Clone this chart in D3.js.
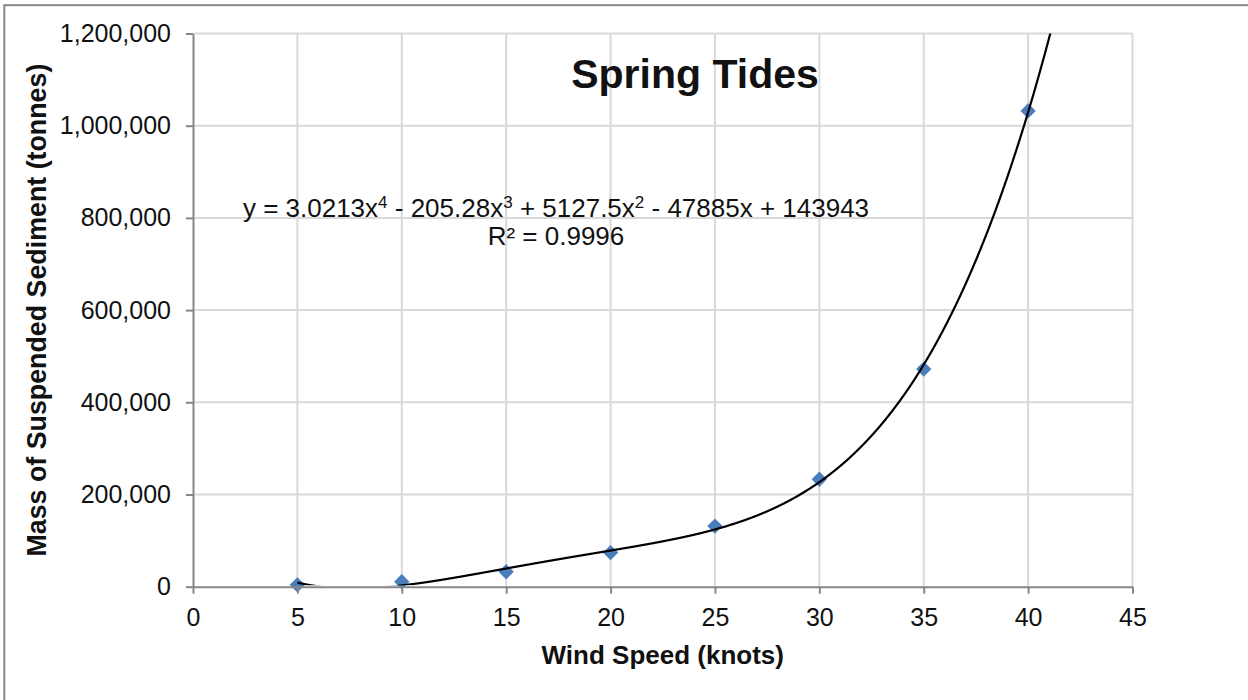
<!DOCTYPE html>
<html>
<head>
<meta charset="utf-8">
<script src="https://cdn.jsdelivr.net/npm/d3@7"></script>
<style>
  html, body { margin: 0; padding: 0; background: #fff; }
  svg { display: block; font-family: "Liberation Sans", Arial, sans-serif; }
</style>
</head>
<body>
<svg id="chart" width="1248" height="700"></svg>
<script>
// Wind speed (knots) and measured suspended sediment mass (tonnes)
const windSpeed = [5, 10, 15, 20, 25, 30, 35, 40];
const sedimentMass = [4000, 11000, 32500, 74000, 131500, 233000, 472000, 1032000];

// Fourth-order polynomial trendline: c0 + c1 x + c2 x^2 + c3 x^3 + c4 x^4
const trendCoef = [143943, -47885, 5127.5, -205.28, 3.0213];
const rSquared = "0.9996";

const xTicks = [0, 5, 10, 15, 20, 25, 30, 35, 40, 45];
const yTicks = [0, 200000, 400000, 600000, 800000, 1000000, 1200000];

const chartTitle = "Spring Tides";
const xTitle = "Wind Speed (knots)";
const yTitle = "Mass of Suspended Sediment (tonnes)";

const svg = d3.select("#chart");
const plot = { left: 193, right: 1132.5, top: 33.5, bottom: 586.7 };

const x = d3.scaleLinear().domain([0, 45]).range([plot.left, plot.right]);
const y = d3.scaleLinear().domain([0, 1200000]).range([plot.bottom, plot.top]);

// outer chart frame
svg.append("rect")
  .attr("x", 4.3).attr("y", 5.2)
  .attr("width", 1300).attr("height", 800)
  .attr("fill", "none").attr("stroke", "#878787").attr("stroke-width", 2);

// gridlines
const grid = svg.append("g").attr("stroke", "#d9d9d9").attr("stroke-width", 2);
grid.selectAll("line.h").data(yTicks.filter(d => d > 0)).join("line")
  .attr("x1", plot.left).attr("x2", plot.right)
  .attr("y1", d => y(d)).attr("y2", d => y(d));
grid.selectAll("line.v").data(xTicks.filter(d => d > 0)).join("line")
  .attr("y1", plot.top).attr("y2", plot.bottom)
  .attr("x1", d => x(d)).attr("x2", d => x(d));

// clip region for the trendline (values at or below zero stay hidden)
svg.append("clipPath").attr("id", "plotClip")
  .append("rect")
  .attr("x", plot.left).attr("y", plot.top)
  .attr("width", plot.right - plot.left).attr("height", plot.bottom - plot.top - 1.5);

// data markers (diamonds)
const diamond = d3.symbol().type(d3.symbolDiamond2).size(150);
svg.append("g").selectAll("path")
  .data(windSpeed.map((w, i) => ({ w, m: sedimentMass[i] })))
  .join("path")
  .attr("d", diamond)
  .attr("transform", d => `translate(${x(d.w)},${y(d.m)})`)
  .attr("fill", "#4a7ebb");

// polynomial trendline evaluated from the fitted coefficients
const poly = v => trendCoef.reduce((s, c, k) => s + c * Math.pow(v, k), 0);
const trendX = d3.range(windSpeed[0], 45.0001, 0.02);
svg.append("path")
  .datum(trendX)
  .attr("clip-path", "url(#plotClip)")
  .attr("fill", "none").attr("stroke", "#000").attr("stroke-width", 2.2)
  .attr("stroke-linejoin", "round")
  .attr("d", d3.line().x(v => x(v)).y(v => y(poly(v))));

// axes
const yAxis = svg.append("g")
  .attr("transform", `translate(${plot.left},0)`)
  .call(d3.axisLeft(y).tickValues(yTicks).tickFormat(d3.format(",")).tickSize(7).tickPadding(15).tickSizeOuter(0));
const xAxis = svg.append("g")
  .attr("transform", `translate(0,${plot.bottom})`)
  .call(d3.axisBottom(x).tickValues(xTicks).tickFormat(d3.format("d")).tickSize(7).tickPadding(15).tickSizeOuter(0));

[yAxis, xAxis].forEach(a => {
  a.select(".domain").attr("stroke", "#868686").attr("stroke-width", 2);
  a.selectAll(".tick line").attr("stroke", "#868686").attr("stroke-width", 2);
  a.selectAll(".tick text").attr("fill", "#111").attr("font-size", 25)
    .attr("font-family", "'Liberation Sans', Arial, sans-serif");
});

// chart title
svg.append("text")
  .attr("x", 695).attr("y", 88)
  .attr("text-anchor", "middle")
  .attr("font-size", 41).attr("font-weight", "bold").attr("fill", "#111")
  .text(chartTitle);

// axis titles
svg.append("text")
  .attr("x", (plot.left + plot.right) / 2).attr("y", 664)
  .attr("text-anchor", "middle")
  .attr("font-size", 26).attr("font-weight", "bold").attr("fill", "#111")
  .text(xTitle);
svg.append("text")
  .attr("transform", `translate(46,${(plot.top + plot.bottom) / 2}) rotate(-90)`)
  .attr("text-anchor", "middle")
  .attr("font-size", 26.8).attr("font-weight", "bold").attr("fill", "#111")
  .text(yTitle);

// trendline equation label
const fmtCoef = c => String(Math.abs(c));
const eq = svg.append("text")
  .attr("x", 556).attr("y", 217)
  .attr("text-anchor", "middle")
  .attr("font-size", 26).attr("fill", "#111");
const terms = [
  { c: trendCoef[4], p: 4 }, { c: trendCoef[3], p: 3 }, { c: trendCoef[2], p: 2 },
  { c: trendCoef[1], p: 1 }, { c: trendCoef[0], p: 0 }
];
let pendingDy = 0;
terms.forEach((t, i) => {
  const sign = i === 0 ? "y = " + (t.c < 0 ? "-" : "") : (t.c < 0 ? " - " : " + ");
  eq.append("tspan").attr("dy", pendingDy).text(sign + fmtCoef(t.c) + (t.p >= 1 ? "x" : ""));
  pendingDy = 0;
  if (t.p >= 2) {
    eq.append("tspan").attr("dy", -9).attr("font-size", 17).text(String(t.p));
    pendingDy = 9;
  }
});
svg.append("text")
  .attr("x", 556).attr("y", 245)
  .attr("text-anchor", "middle")
  .attr("font-size", 26).attr("fill", "#111")
  .text("R² = " + rSquared);
</script>
</body>
</html>
